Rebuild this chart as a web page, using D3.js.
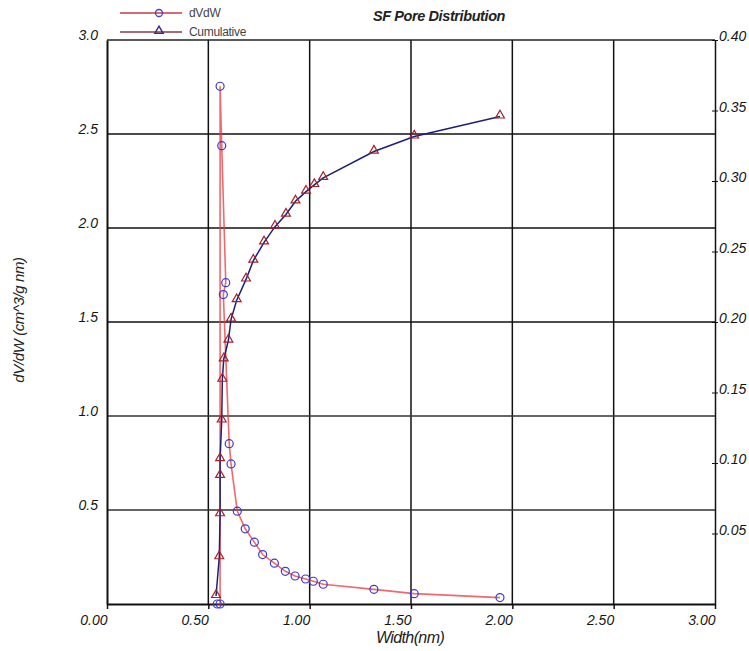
<!DOCTYPE html>
<html>
<head>
<meta charset="utf-8">
<script src="https://cdn.jsdelivr.net/npm/d3@7/dist/d3.min.js"></script>
<style>
  html, body { margin: 0; padding: 0; background: #fff; }
  svg text { font-family: "Liberation Sans", Arial, sans-serif; }
</style>
</head>
<body>
<svg id="chart" width="749" height="651"></svg>
<script>
// ---- data ----
const widthD = [0.544, 0.558, 0.558, 0.566, 0.586, 0.574, 0.603, 0.612, 0.643, 0.682, 0.727, 0.768, 0.826, 0.880, 0.928, 0.980, 1.018, 1.067, 1.317, 1.516, 1.939];
const dVdW   = [0.0, 0.0, 2.754, 2.438, 1.709, 1.646, 0.853, 0.745, 0.494, 0.400, 0.329, 0.263, 0.217, 0.174, 0.149, 0.133, 0.121, 0.105, 0.078, 0.055, 0.034];

const widthC = [0.538, 0.554, 0.558, 0.558, 0.558, 0.566, 0.569, 0.576, 0.599, 0.612, 0.640, 0.686, 0.722, 0.775, 0.829, 0.883, 0.930, 0.982, 1.023, 1.067, 1.317, 1.516, 1.939];
const cumulative = [0.0057, 0.0332, 0.0637, 0.0909, 0.1028, 0.1302, 0.1591, 0.1736, 0.1869, 0.2018, 0.2155, 0.2302, 0.2435, 0.2565, 0.2676, 0.2762, 0.2856, 0.2925, 0.2972, 0.3022, 0.3209, 0.3316, 0.3458];

const xTicks = [0, 0.5, 1.0, 1.5, 2.0, 2.5, 3.0];
const yLeftTicks = [0.5, 1.0, 1.5, 2.0, 2.5, 3.0];
const yRightTicks = [0.05, 0.10, 0.15, 0.20, 0.25, 0.30, 0.35, 0.40];
const seriesNames = ["dVdW", "Cumulative"];
const titleText = "SF Pore Distribution";
const xTitle = "Width(nm)";
const yTitle = "dV/dW (cm^3/g nm)";

// ---- layout ----
const L = 107, R = 715, T = 40, B = 604;
const svg = d3.select("#chart");
const x = d3.scaleLinear().domain([0, 3]).range([L, R]);
const yL = d3.scaleLinear().domain([0, 3]).range([B, T]);
const yR = d3.scaleLinear().domain([0, 0.4]).range([B, T]);

// gridlines
const grid = svg.append("g");
grid.selectAll("line.v").data(xTicks.slice(1, -1)).join("line")
  .attr("x1", d => x(d)).attr("x2", d => x(d))
  .attr("y1", T).attr("y2", B)
  .attr("stroke", "#111").attr("stroke-width", 1.5);
grid.selectAll("line.h").data(yLeftTicks.slice(0, -1)).join("line")
  .attr("x1", L).attr("x2", R)
  .attr("y1", d => yL(d)).attr("y2", d => yL(d))
  .attr("stroke", d => d <= 1.0 ? "#333" : "#111").attr("stroke-width", 1.5);

// frame
svg.append("line").attr("x1", L).attr("x2", R).attr("y1", T).attr("y2", T).attr("stroke", "#222").attr("stroke-width", 1.3);

const tickFont = sel => sel.style("font-size", "14px").style("font-style", "italic").attr("fill", "#151515");

// x axis
const xAxis = svg.append("g").attr("transform", `translate(0,${B})`)
  .call(d3.axisBottom(x).tickValues(xTicks).tickFormat(d3.format(".2f")).tickSize(5).tickPadding(6).tickSizeOuter(0));
xAxis.select(".domain").attr("stroke", "#111").attr("stroke-width", 2);
xAxis.selectAll(".tick line").attr("stroke", "#111").attr("stroke-width", 1.5);
xAxis.selectAll(".tick text").attr("text-anchor", "end").call(tickFont);

// left axis
const yAxisL = svg.append("g").attr("transform", `translate(${L},0)`)
  .call(d3.axisLeft(yL).tickValues(yLeftTicks).tickFormat(d3.format(".1f")).tickSize(0).tickPadding(9).tickSizeOuter(0));
yAxisL.select(".domain").attr("stroke", "#111").attr("stroke-width", 2);
yAxisL.selectAll(".tick text").attr("dy", "-0.05em").call(tickFont);

// right axis
const yAxisR = svg.append("g").attr("transform", `translate(${R},0)`)
  .call(d3.axisRight(yR).tickValues(yRightTicks).tickFormat(d3.format(".2f")).tickSize(3).tickPadding(1).tickSizeOuter(0));
yAxisR.select(".domain").attr("stroke", "#111").attr("stroke-width", 1.5);
yAxisR.selectAll(".tick line").attr("stroke", "#111").attr("x1", -3);
yAxisR.selectAll(".tick text").attr("dy", "0.05em").call(tickFont);

// series data
const dData = widthD.map((w, i) => [w, dVdW[i]]);
const cData = widthC.map((w, i) => [w, cumulative[i]]);

// dVdW line
svg.append("path").datum(dData)
  .attr("fill", "none").attr("stroke", "#e8383f").attr("stroke-opacity", 0.75).attr("stroke-width", 1.6)
  .attr("d", d3.line().x(d => x(d[0])).y(d => yL(d[1])));

// cumulative line
svg.append("path").datum(cData)
  .attr("fill", "none").attr("stroke", "#1c1f7a").attr("stroke-width", 1.5)
  .attr("d", d3.line().x(d => x(d[0])).y(d => yR(d[1])));

// triangle markers
const tri = d3.symbol().type(d3.symbolTriangle).size(34);
svg.append("g").selectAll("path").data(cData).join("path")
  .attr("transform", d => `translate(${x(d[0])},${yR(d[1]) - 1})`)
  .attr("d", tri).attr("fill", "none").attr("stroke", "#a5202a").attr("stroke-width", 1.2);

// circle markers
svg.append("g").selectAll("circle").data(dData).join("circle")
  .attr("cx", d => x(d[0])).attr("cy", d => yL(d[1])).attr("r", 4)
  .attr("fill", "none").attr("stroke", "#3a3ad0").attr("stroke-width", 1.2);

// legend
const lg = svg.append("g");
const lgY = [13, 32];
const lgLine = ["#c73a4a", "#8a3a48"];
lg.selectAll("line").data(seriesNames).join("line")
  .attr("x1", 120).attr("x2", 182).attr("y1", (d, i) => lgY[i]).attr("y2", (d, i) => lgY[i])
  .attr("stroke", (d, i) => lgLine[i]).attr("stroke-width", 1.3);
lg.append("circle").attr("cx", 159).attr("cy", lgY[0]).attr("r", 3.5)
  .attr("fill", "none").attr("stroke", "#4a3ad0").attr("stroke-width", 1.3);
lg.append("path").attr("transform", `translate(159,${lgY[1] - 1})`)
  .attr("d", d3.symbol().type(d3.symbolTriangle).size(30))
  .attr("fill", "none").attr("stroke", "#3a2a8a").attr("stroke-width", 1.4);
lg.selectAll("text").data(seriesNames).join("text")
  .attr("x", 189).attr("y", (d, i) => lgY[i] + 4)
  .style("font-size", "12px").style("letter-spacing", "-0.3px").attr("fill", "#444").text(d => d);

// titles
svg.append("text").attr("x", 439).attr("y", 21).attr("text-anchor", "middle")
  .style("font-size", "14.5px").style("font-weight", "bold").style("font-style", "italic")
  .style("letter-spacing", "-0.4px").attr("fill", "#222").text(titleText);
svg.append("text").attr("x", 410).attr("y", 643).attr("text-anchor", "middle")
  .style("font-size", "16px").style("font-style", "italic").style("letter-spacing", "-0.6px")
  .attr("fill", "#222").text(xTitle);
svg.append("text").attr("transform", "translate(24,320) rotate(-90)").attr("text-anchor", "middle")
  .style("font-size", "15px").style("font-style", "italic").style("letter-spacing", "-0.4px")
  .attr("fill", "#222").text(yTitle);
</script>
</body>
</html>
